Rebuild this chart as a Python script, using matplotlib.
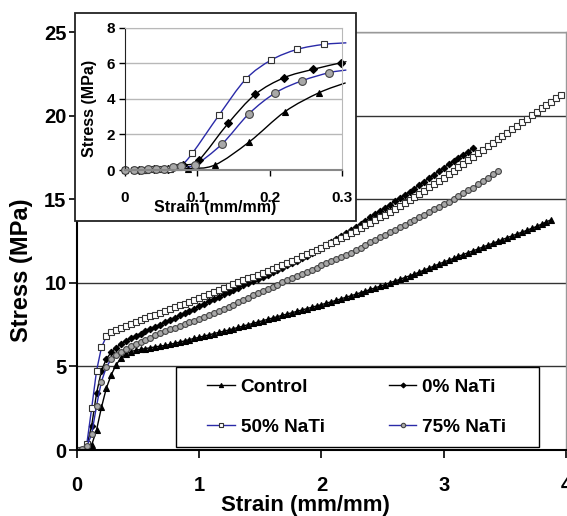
import numpy as np
import matplotlib
matplotlib.use("Agg")
from matplotlib import pyplot as plt
from matplotlib.patches import Rectangle, PathPatch
from matplotlib.path import Path
from matplotlib.offsetbox import DrawingArea

plt.rcParams['font.family'] = ['Liberation Sans', 'DejaVu Sans']
plt.rcParams['font.weight'] = 'bold'

# ---- main chart data (strain in mm/mm, stress in MPa)
main_strain = [0.00, 0.04, 0.08, 0.12, 0.16, 0.20, 0.24, 0.28, 0.32, 0.36,
               0.40, 0.44, 0.48, 0.52, 0.56, 0.60, 0.64, 0.68, 0.72, 0.76,
               0.80, 0.84, 0.88, 0.92, 0.96, 1.00, 1.04, 1.08, 1.12, 1.16,
               1.20, 1.24, 1.28, 1.32, 1.36, 1.40, 1.44, 1.48, 1.52, 1.56,
               1.60, 1.64, 1.68, 1.72, 1.76, 1.80, 1.84, 1.88, 1.92, 1.96,
               2.00, 2.04, 2.08, 2.12, 2.16, 2.20, 2.24, 2.28, 2.32, 2.36,
               2.40, 2.44, 2.48, 2.52, 2.56, 2.60, 2.64, 2.68, 2.72, 2.76,
               2.80, 2.84, 2.88, 2.92, 2.96, 3.00, 3.04, 3.08, 3.12, 3.16,
               3.20, 3.24, 3.28, 3.32, 3.36, 3.40, 3.44, 3.48, 3.52, 3.56,
               3.60, 3.64, 3.68, 3.72, 3.76, 3.80, 3.84, 3.88, 3.92, 3.96]

control_stress = [0, 0.02, 0.06, 0.3, 1.2, 2.55, 3.7, 4.5, 5.1, 5.5,
                  5.75, 5.88, 5.97, 6.02, 6.07, 6.12, 6.17, 6.22, 6.26, 6.32,
                  6.39, 6.46, 6.53, 6.61, 6.68, 6.75, 6.82, 6.89, 6.97, 7.04,
                  7.11, 7.18, 7.26, 7.34, 7.42, 7.5, 7.58, 7.66, 7.74, 7.82,
                  7.9, 7.98, 8.06, 8.14, 8.22, 8.3, 8.38, 8.46, 8.54, 8.62,
                  8.7, 8.79, 8.87, 8.96, 9.05, 9.14, 9.23, 9.32, 9.42, 9.51,
                  9.61, 9.71, 9.8, 9.9, 10.01, 10.11, 10.21, 10.32, 10.42, 10.53,
                  10.65, 10.77, 10.89, 11.01, 11.13, 11.25, 11.36, 11.47, 11.59, 11.7,
                  11.81, 11.92, 12.03, 12.15, 12.26, 12.37, 12.48, 12.59, 12.71, 12.82,
                  12.93, 13.04, 13.15, 13.27, 13.38, 13.52, 13.65, 13.79]

nati0_stress = [0, 0.03, 0.28, 1.45, 3.4, 4.75, 5.45, 5.85, 6.12, 6.35,
                6.55, 6.69, 6.83, 6.97, 7.1, 7.24, 7.38, 7.51, 7.65, 7.78,
                7.92, 8.06, 8.19, 8.33, 8.46, 8.6, 8.74, 8.89, 9.03, 9.18,
                9.32, 9.46, 9.6, 9.72, 9.85, 9.98, 10.11, 10.24, 10.37, 10.5,
                10.64, 10.78, 10.91, 11.05, 11.19, 11.34, 11.49, 11.64, 11.8, 11.95,
                12.1, 12.28, 12.45, 12.63, 12.8, 12.98, 13.16, 13.34, 13.54, 13.73,
                13.92, 14.11, 14.3, 14.5, 14.69, 14.88, 15.07, 15.26, 15.46, 15.65,
                15.86, 16.07, 16.28, 16.48, 16.69, 16.9, 17.09, 17.28, 17.48, 17.67,
                17.86, 18.05]

nati50_stress = [0, 0.03, 0.35, 2.5, 4.75, 6.14, 6.8, 7.08, 7.2, 7.33,
                 7.45, 7.57, 7.69, 7.8, 7.91, 8.01, 8.11, 8.22, 8.32, 8.43,
                 8.54, 8.65, 8.76, 8.88, 8.99, 9.1, 9.22, 9.34, 9.46, 9.58,
                 9.7, 9.82, 9.93, 10.05, 10.16, 10.27, 10.38, 10.49, 10.61, 10.73,
                 10.85, 10.97, 11.09, 11.21, 11.33, 11.46, 11.59, 11.72, 11.84, 11.97,
                 12.1, 12.24, 12.39, 12.53, 12.68, 12.82, 12.96, 13.12, 13.28, 13.44,
                 13.6, 13.76, 13.92, 14.09, 14.26, 14.44, 14.62, 14.79, 14.97, 15.15,
                 15.34, 15.53, 15.72, 15.92, 16.11, 16.3, 16.51, 16.72, 16.92, 17.13,
                 17.34, 17.55, 17.76, 17.96, 18.17, 18.38, 18.59, 18.8, 19.0, 19.21,
                 19.42, 19.63, 19.84, 20.04, 20.25, 20.45, 20.65, 20.85, 21.05, 21.25]

nati75_stress = [0, 0.05, 0.22, 0.95, 2.65, 4.1, 4.95, 5.45, 5.7, 5.89,
                 6.07, 6.21, 6.35, 6.48, 6.61, 6.73, 6.86, 6.98, 7.11, 7.23,
                 7.33, 7.43, 7.54, 7.64, 7.75, 7.85, 7.97, 8.09, 8.21, 8.33,
                 8.45, 8.57, 8.7, 8.84, 8.97, 9.11, 9.25, 9.38, 9.51, 9.64,
                 9.77, 9.9, 10.03, 10.15, 10.28, 10.41, 10.54, 10.67, 10.79, 10.92,
                 11.05, 11.18, 11.31, 11.43, 11.56, 11.69, 11.82, 11.96, 12.12, 12.27,
                 12.42, 12.57, 12.72, 12.88, 13.03, 13.18, 13.33, 13.48, 13.64, 13.79,
                 13.94, 14.09, 14.24, 14.4, 14.55, 14.7, 14.87, 15.04, 15.2, 15.37,
                 15.54, 15.71, 15.9, 16.1, 16.29, 16.49, 16.68]

# ---- inset data (low strain region, sparser sampling)
ins_control_x = [0, 0.029, 0.058, 0.087, 0.124, 0.172, 0.221, 0.268, 0.305]
ins_control_y = [0, 0.02, 0.04, 0.08, 0.28, 1.59, 3.28, 4.34, 4.9]
ins_nati0_x = [0, 0.02, 0.04, 0.06, 0.08, 0.102, 0.1425, 0.18, 0.22, 0.26, 0.299, 0.306]
ins_nati0_y = [0, 0.02, 0.04, 0.08, 0.28, 0.56, 2.62, 4.25, 5.19, 5.66, 6.03, 6.08]
ins_nati50_x = [0, 0.012, 0.025, 0.037, 0.05, 0.062, 0.075, 0.093, 0.13, 0.167, 0.202, 0.238, 0.2745, 0.306]
ins_nati50_y = [0, 0.01, 0.02, 0.03, 0.04, 0.06, 0.15, 0.94, 3.09, 5.11, 6.18, 6.78, 7.06, 7.15]
ins_nati75_x = [0, 0.012, 0.022, 0.032, 0.043, 0.054, 0.066, 0.078, 0.0966, 0.134, 0.171, 0.208, 0.245, 0.282, 0.306]
ins_nati75_y = [0, 0.01, 0.02, 0.04, 0.05, 0.07, 0.15, 0.22, 0.28, 1.46, 3.15, 4.34, 5.02, 5.47, 5.62]

labels = ['Control', '0% NaTi', '50% NaTi', '75% NaTi']
blue = '#2a2aa8'
styles = [
    dict(color='black', marker='^', mfc='black', mec='black'),
    dict(color='black', marker='D', mfc='black', mec='black'),
    dict(color=blue, marker='s', mfc='white', mec='#333333'),
    dict(color=blue, marker='o', mfc='#a8a8a8', mec='#444444'),
]


def smooth_path(xs, ys):
    # smoothed line through the points (like the spreadsheet "smoothed line")
    p = np.column_stack([xs, ys])
    verts = [p[0]]
    codes = [Path.MOVETO]
    n = len(p)
    for i in range(n - 1):
        p0 = p[max(i - 1, 0)]
        p3 = p[min(i + 2, n - 1)]
        c1 = p[i] + (p[i + 1] - p0) / 6
        c2 = p[i + 1] - (p3 - p[i]) / 6
        verts += [c1, c2, p[i + 1]]
        codes += [Path.CURVE4] * 3
    return Path(verts, codes)


fig = plt.figure(figsize=(5.67, 5.16), dpi=100)
ax = fig.add_axes([0.1358, 0.1279, 0.8624, 0.8095])

main_series = [control_stress, nati0_stress, nati50_stress, nati75_stress]
msizes = [4.0, 3.3, 3.9, 4.2]
handles = []
for stress, st, lab, ms in zip(main_series, styles, labels, msizes):
    h, = ax.plot(main_strain[:len(stress)], stress, lw=1.0, ms=ms, mew=0.8,
                 label=lab, **st)
    handles.append(h)

ax.set_xlim(0, 4)
ax.set_ylim(0, 25)
ax.set_xticks([0, 1, 2, 3, 4])
ax.set_yticks([0, 5, 10, 15, 20, 25])
ax.yaxis.grid(True, color='#333333', lw=1.0)
ax.set_axisbelow(True)
ax.tick_params(axis='both', labelsize=14.5, length=5.5, width=1.2)
ax.tick_params(axis='x', pad=13)
ax.tick_params(axis='y', pad=2)
for s in ['left', 'bottom']:
    ax.spines[s].set_linewidth(1.5)
for s in ['top', 'right']:
    ax.spines[s].set_color('#999999')
    ax.spines[s].set_linewidth(1.0)
ax.set_xlabel('Strain (mm/mm)', fontsize=16, fontweight='bold')
ax.set_ylabel('Stress (MPa)', fontsize=17, fontweight='bold')
ax.xaxis.set_label_coords(0.468, -0.108)
ax.yaxis.set_label_coords(-0.09, 0.43)

# legend: Control / 50% in the first column, 0% / 75% in the second
leg = ax.legend([handles[0], handles[2], handles[1], handles[3]],
                [labels[0], labels[2], labels[1], labels[3]],
                ncol=2, loc='lower left', bbox_to_anchor=(0.2025, 0.007),
                borderaxespad=0, prop={'weight': 'bold', 'size': 13.7},
                handlelength=1.45, handletextpad=0.3, columnspacing=0,
                labelspacing=1.18, borderpad=0.6, markerscale=0.75,
                fancybox=False, framealpha=1, edgecolor='black')
leg.get_frame().set_linewidth(1.0)
px = 1 / 1.389
cols = leg._legend_handle_box.get_children()
cols.insert(0, DrawingArea(20 * px, 1))
cols.insert(2, DrawingArea(64 * px, 1))
cols.append(DrawingArea(21 * px, 1))

# inset panel with its own white box
fig.add_artist(Rectangle((0.1323, 0.5717), 0.4956, 0.4031, transform=fig.transFigure,
                         facecolor='white', edgecolor='#222222', lw=1.3, zorder=2))
axi = fig.add_axes([0.2205, 0.6705, 0.3827, 0.2758])
axi.set_zorder(3)

inset_series = [(ins_control_x, ins_control_y), (ins_nati0_x, ins_nati0_y),
                (ins_nati50_x, ins_nati50_y), (ins_nati75_x, ins_nati75_y)]
ins_ms = [4.5, 4.2, 5.0, 5.6]
for (xs, ys), st, ms in zip(inset_series, styles, ins_ms):
    axi.add_patch(PathPatch(smooth_path(xs, ys), fill=False, edgecolor=st['color'],
                            lw=1.0, clip_on=False))
    axi.plot(xs[:-1], ys[:-1], ls='none', ms=ms, mew=0.8, clip_on=False, **st)

axi.set_xlim(0, 0.3)
axi.set_ylim(0, 8)
axi.set_xticks([0, 0.1, 0.2, 0.3])
axi.set_xticklabels(['0', '0.1', '0.2', '0.3'])
axi.set_yticks([0, 2, 4, 6, 8])
axi.yaxis.grid(True, color='#b8b8b8', lw=1.0)
axi.set_axisbelow(True)
axi.tick_params(axis='both', labelsize=11, length=4, width=1.0)
axi.tick_params(axis='x', pad=11)
axi.tick_params(axis='y', pad=3)
axi.spines['left'].set_color('#222222')
axi.spines['bottom'].set_color('#888888')
axi.spines['bottom'].set_linewidth(1.5)
for s in ['top', 'right']:
    axi.spines[s].set_color('#b8b8b8')
axi.set_xlabel('Strain (mm/mm)', fontsize=11.5, fontweight='bold')
axi.set_ylabel('Stress (MPa)', fontsize=11.5, fontweight='bold')
axi.xaxis.set_label_coords(0.413, -0.211)
axi.yaxis.set_label_coords(-0.13, 0.432)

fig.savefig('out.png', dpi=100)
